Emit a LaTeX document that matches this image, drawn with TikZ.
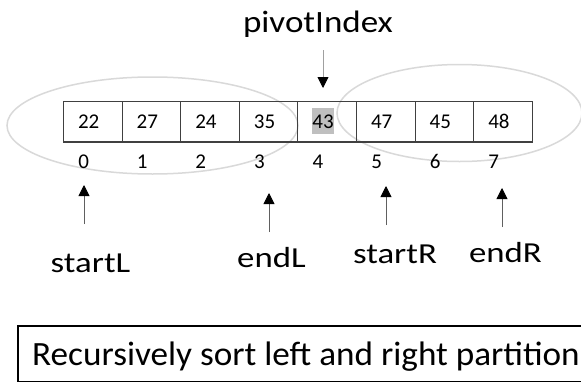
\documentclass[tikz,border=0pt]{standalone}
\usepackage{fontspec}
\setmainfont{Carlito}
\usetikzlibrary{arrows.meta}
\definecolor{cellline}{HTML}{404040}
\definecolor{ellcol}{HTML}{D9D9D9}
\definecolor{arrline}{HTML}{606060}
\definecolor{pivline}{HTML}{A0A0A0}
\definecolor{hilite}{HTML}{BFBFBF}
\begin{document}
\begin{tikzpicture}[x=1pt,y=-1pt,
  cellbox/.style={draw=cellline, line width=0.8pt, minimum width=58.6pt, minimum height=40pt, inner sep=0pt, anchor=north west},
  cellnum/.style={font=\fontsize{21}{21}\selectfont, inner sep=0pt},
  idx/.style={font=\fontsize{21}{21}\selectfont, inner sep=0pt, anchor=base},
  lbl/.style={font=\fontsize{29}{29}\selectfont, inner sep=0pt, anchor=base},
  uparrow/.style={draw=arrline, line width=0.9pt, -{Triangle[width=11pt,length=11pt,color=black]}},
  part/.style={draw=ellcol, line width=1.5pt},
]
\clip (0,0) rectangle (581,383);
\fill[white] (0,0) rectangle (581,383);

% partitions
\draw[part] (152.5,125.5) ellipse [x radius=145.5, y radius=48.5];
\draw[part] (459.5,113) ellipse [x radius=122.5, y radius=48.5];

% pivot highlight
\fill[hilite] (312,108) rectangle (334,134);

% cells
\foreach \v [count=\i from 0] in {22,27,24,35,43,47,45,48} {
  \node[cellbox] (c\i) at (63+58.6*\i,101) {};
  \node[cellnum] (n\i) at ([xshift=-4pt]c\i.center) {\v};
  \node[idx] (i\i) at (83.6+58.6*\i,168) {\i};
}
\draw[cellline, line width=2pt] (c0.south west) -- (c7.south east);

% labels
\node[font=\fontsize{31}{31}\selectfont, inner sep=0pt, anchor=base] (piv) at (318,32) {\scalebox{1.13}[1]{pivotIndex}};
\node[lbl] (sL) at (90.5,272) {\scalebox{1.2}[1]{startL}};
\node[lbl] (eL) at (271.5,267) {\scalebox{1.2}[1]{endL}};
\node[lbl] (sR) at (395,263) {\scalebox{1.2}[1]{startR}};
\node[lbl] (eR) at (505.5,262) {\scalebox{1.2}[1]{endR}};

% arrows
\coordinate (pa) at (323,50); \coordinate (pb) at (323,88);
\draw[draw=pivline, line width=0.9pt, -{Triangle[width=11pt,length=11pt,color=black]}] (pa) -- (pb);
\coordinate (sLa) at (84,224); \coordinate (sLb) at (84,185);
\coordinate (eLa) at (269,232); \coordinate (eLb) at (269,193);
\coordinate (sRa) at (386,225); \coordinate (sRb) at (386,186);
\coordinate (eRa) at (502,227); \coordinate (eRb) at (502,188);
\draw[uparrow] (sLa) -- (sLb);
\draw[uparrow] (eLa) -- (eLb);
\draw[uparrow] (sRa) -- (sRb);
\draw[uparrow] (eRa) -- (eRb);

% bottom box
\draw[black, line width=1.2pt] (18,326) rectangle (600,381.5);
\node[font=\fontsize{34}{34}\selectfont, inner sep=0pt, anchor=base west] (rec) at (32,365) {\scalebox{1.035}[1]{Recursively sort left and right partition}};
\end{tikzpicture}
\end{document}
